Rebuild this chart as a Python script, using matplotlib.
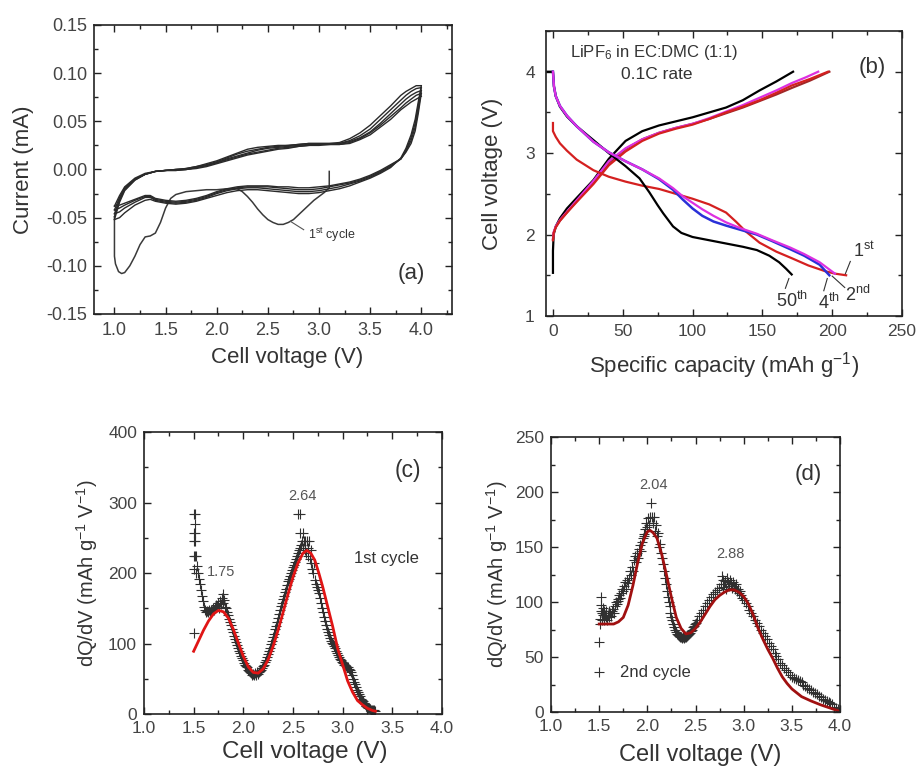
import matplotlib
matplotlib.use("Agg")
import matplotlib.pyplot as plt
from matplotlib.ticker import MultipleLocator, FormatStrFormatter

plt.rcParams['font.family'] = ['Liberation Sans', 'DejaVu Sans']
plt.rcParams['mathtext.fontset'] = 'custom'
plt.rcParams['mathtext.rm'] = 'Liberation Sans'
plt.rcParams['mathtext.it'] = 'Liberation Sans:italic'
plt.rcParams['mathtext.bf'] = 'Liberation Sans:bold'

TXT = '#333333'
TICKC = '#444444'

# ---------------- (a) cyclic voltammetry ----------------
V_up = [1.00, 1.05, 1.10, 1.20, 1.30, 1.40, 1.50, 1.60, 1.70, 1.80, 1.90, 2.00, 2.10, 2.20, 2.30,
        2.40, 2.50, 2.60, 2.70, 2.80, 2.90, 3.00, 3.10, 3.20, 3.30, 3.40, 3.50, 3.60, 3.70, 3.80,
        3.85, 3.90, 3.95, 4.00]
up_1 = [-0.049, -0.032, -0.021, -0.011, -0.005, -0.002, -0.001, 0.000, 0.001, 0.003, 0.006, 0.009, 0.013, 0.017, 0.021,
        0.023, 0.024, 0.025, 0.025, 0.026, 0.027, 0.027, 0.027, 0.028, 0.032, 0.038, 0.046, 0.056, 0.066, 0.077,
        0.081, 0.084, 0.087, 0.087]
up_2 = [-0.052, -0.034, -0.022, -0.011, -0.005, -0.002, -0.001, 0.000, 0.001, 0.003, 0.005, 0.008, 0.012, 0.016, 0.019,
        0.021, 0.023, 0.024, 0.025, 0.026, 0.027, 0.027, 0.027, 0.027, 0.030, 0.035, 0.042, 0.052, 0.062, 0.072,
        0.077, 0.081, 0.084, 0.085]
up_3 = [-0.046, -0.031, -0.020, -0.010, -0.005, -0.002, -0.001, 0.000, 0.000, 0.002, 0.004, 0.007, 0.011, 0.014, 0.017,
        0.020, 0.022, 0.023, 0.024, 0.025, 0.026, 0.026, 0.026, 0.027, 0.029, 0.033, 0.039, 0.048, 0.058, 0.068,
        0.073, 0.077, 0.080, 0.082]
up_4 = [-0.042, -0.029, -0.019, -0.010, -0.005, -0.002, -0.001, -0.001, 0.000, 0.002, 0.004, 0.007, 0.010, 0.013, 0.016,
        0.018, 0.020, 0.022, 0.023, 0.024, 0.025, 0.026, 0.026, 0.026, 0.028, 0.032, 0.038, 0.046, 0.055, 0.064,
        0.069, 0.073, 0.077, 0.079]
up_5 = [-0.038, -0.027, -0.018, -0.009, -0.004, -0.002, -0.001, -0.001, 0.000, 0.001, 0.003, 0.006, 0.009, 0.012, 0.015,
        0.017, 0.019, 0.021, 0.022, 0.024, 0.025, 0.025, 0.026, 0.026, 0.027, 0.031, 0.036, 0.044, 0.052, 0.062,
        0.066, 0.070, 0.073, 0.076]

V_dn = [4.00, 3.97, 3.94, 3.90, 3.85, 3.80, 3.70, 3.60, 3.50, 3.40, 3.30, 3.20, 3.10, 3.00, 2.90, 2.80,
        2.70, 2.60, 2.50, 2.40, 2.30, 2.20, 2.10, 2.00, 1.90, 1.80, 1.70, 1.60, 1.50, 1.40, 1.35, 1.30,
        1.20, 1.10, 1.05, 1.00]
dn_1 = [0.087, 0.070, 0.052, 0.036, 0.022, 0.012, 0.002, -0.004, -0.009, -0.013, -0.017, -0.020, -0.022, -0.024, -0.025, -0.025,
        -0.024, -0.023, -0.022, -0.021, -0.021, -0.022, -0.024, -0.027, -0.030, -0.033, -0.035, -0.036, -0.035, -0.033, -0.031, -0.032,
        -0.037, -0.045, -0.050, -0.052]
dn_2 = [0.085, 0.066, 0.048, 0.033, 0.020, 0.011, 0.003, -0.003, -0.008, -0.012, -0.015, -0.018, -0.020, -0.022, -0.023, -0.023,
        -0.022, -0.021, -0.020, -0.019, -0.019, -0.020, -0.022, -0.025, -0.029, -0.032, -0.034, -0.035, -0.034, -0.032, -0.029, -0.029,
        -0.034, -0.040, -0.044, -0.046]
dn_3 = [0.082, 0.062, 0.044, 0.030, 0.019, 0.011, 0.004, -0.002, -0.007, -0.011, -0.014, -0.016, -0.018, -0.020, -0.021, -0.021,
        -0.020, -0.019, -0.018, -0.018, -0.018, -0.019, -0.021, -0.024, -0.028, -0.031, -0.033, -0.034, -0.033, -0.031, -0.028, -0.028,
        -0.032, -0.037, -0.040, -0.042]
dn_4 = [0.079, 0.058, 0.040, 0.027, 0.018, 0.011, 0.005, -0.001, -0.006, -0.010, -0.013, -0.015, -0.017, -0.018, -0.019, -0.019,
        -0.018, -0.018, -0.017, -0.017, -0.017, -0.018, -0.020, -0.023, -0.027, -0.030, -0.032, -0.033, -0.032, -0.030, -0.027, -0.027,
        -0.031, -0.035, -0.037, -0.038]

V_first = [3.10, 3.10, 3.05, 3.00, 2.95, 2.90, 2.85, 2.80, 2.75, 2.70, 2.65, 2.60, 2.55, 2.50, 2.45, 2.40, 2.35, 2.30,
           2.25, 2.20, 2.10, 2.00, 1.90, 1.80, 1.70, 1.60, 1.55, 1.50, 1.45, 1.40, 1.35, 1.30, 1.25, 1.20, 1.15, 1.10,
           1.07, 1.04, 1.01, 1.00, 1.00, 1.00]
I_first = [-0.002, -0.019, -0.024, -0.028, -0.032, -0.037, -0.042, -0.047, -0.052, -0.055, -0.057, -0.057, -0.055, -0.052,
           -0.047, -0.041, -0.034, -0.028, -0.023, -0.020, -0.020, -0.021, -0.021, -0.022, -0.023, -0.026, -0.030, -0.040,
           -0.055, -0.066, -0.069, -0.070, -0.078, -0.090, -0.100, -0.107, -0.108, -0.106, -0.098, -0.090, -0.070, -0.049]

# ---------------- (b) charge / discharge ----------------
cap_d1 = [0, 0, 2, 5, 10, 17, 29, 40, 52, 64, 76, 88, 100, 112, 124, 131, 138, 148, 160, 171, 183, 195, 202, 210]
V_d1 = [3.37, 3.27, 3.20, 3.12, 3.03, 2.92, 2.79, 2.71, 2.65, 2.60, 2.56, 2.50, 2.44, 2.37, 2.27, 2.16, 2.04, 1.90,
        1.79, 1.71, 1.62, 1.55, 1.52, 1.50]
cap_d2 = [0, 0.7, 2, 5, 10, 17, 29, 40, 52, 64, 76, 86, 93, 100, 107, 115, 124, 134, 146, 157, 170, 180, 191, 202]
V_d2 = [4.00, 3.82, 3.70, 3.58, 3.46, 3.33, 3.14, 3.01, 2.90, 2.80, 2.69, 2.57, 2.47, 2.39, 2.31, 2.23, 2.15, 2.08,
        2.01, 1.93, 1.84, 1.76, 1.66, 1.52]
cap_d4 = [0, 0.7, 2, 5, 10, 17, 29, 40, 52, 64, 76, 86, 93, 100, 107, 115, 124, 134, 146, 157, 170, 180, 191, 198]
V_d4 = [4.00, 3.82, 3.70, 3.58, 3.46, 3.33, 3.14, 3.01, 2.90, 2.80, 2.68, 2.55, 2.43, 2.32, 2.23, 2.16, 2.11, 2.06,
        2.00, 1.92, 1.82, 1.74, 1.63, 1.50]
cap_d50 = [-4, 0, 0.7, 2, 5, 10, 17, 29, 40, 52, 62, 69, 75, 79, 86, 92, 100, 112, 124, 136, 146, 155, 162, 167, 171]
V_d50 = [4.00, 4.00, 3.82, 3.70, 3.57, 3.45, 3.33, 3.16, 3.00, 2.84, 2.69, 2.52, 2.36, 2.26, 2.10, 2.02, 1.97, 1.93,
         1.89, 1.85, 1.81, 1.74, 1.66, 1.58, 1.51]

cap_c1 = [0, 0.5, 2, 5, 10, 17, 29, 40, 52, 64, 76, 88, 100, 112, 124, 136, 148, 160, 171, 184, 197]
V_c1 = [1.93, 2.02, 2.09, 2.17, 2.27, 2.40, 2.62, 2.85, 3.02, 3.15, 3.24, 3.30, 3.35, 3.42, 3.50, 3.57, 3.65, 3.74,
        3.83, 3.91, 4.00]
cap_c2 = [0, 0.5, 2, 5, 10, 17, 29, 40, 52, 64, 76, 88, 100, 112, 124, 136, 148, 160, 171, 184, 198]
V_c2 = [1.94, 2.02, 2.09, 2.17, 2.27, 2.41, 2.64, 2.88, 3.05, 3.17, 3.25, 3.31, 3.36, 3.42, 3.49, 3.56, 3.64, 3.72,
        3.80, 3.89, 4.00]
cap_c4 = [0, 0.5, 2, 5, 10, 17, 29, 40, 52, 64, 76, 88, 100, 112, 124, 136, 148, 160, 171, 181, 190]
V_c4 = [1.95, 2.03, 2.10, 2.18, 2.28, 2.42, 2.66, 2.90, 3.06, 3.17, 3.25, 3.31, 3.36, 3.43, 3.51, 3.59, 3.68, 3.77,
        3.86, 3.93, 4.00]
cap_c50 = [0, 0, 0.5, 2, 5, 10, 17, 29, 40, 52, 64, 76, 88, 100, 112, 124, 136, 148, 160, 172]
V_c50 = [1.53, 1.80, 2.00, 2.10, 2.20, 2.32, 2.45, 2.67, 2.93, 3.15, 3.27, 3.34, 3.39, 3.44, 3.50, 3.56, 3.65, 3.77,
         3.88, 4.00]

# ---------------- (c) dQ/dV 1st cycle ----------------
V_c = [1.50, 1.51, 1.51, 1.50, 1.51, 1.50, 1.51, 1.50, 1.51, 1.52, 1.50, 1.52, 1.50,
       1.53, 1.54, 1.55, 1.56, 1.57, 1.58, 1.59, 1.60, 1.61, 1.62, 1.63, 1.64, 1.65, 1.66, 1.67, 1.68, 1.69, 1.70,
       1.71, 1.72, 1.73, 1.74, 1.75, 1.76, 1.77, 1.78, 1.79, 1.80, 1.80, 1.81, 1.82, 1.83, 1.84, 1.85, 1.86, 1.87,
       1.88, 1.89, 1.90, 1.91, 1.92, 1.93, 1.94, 1.95, 1.96, 1.97, 1.98, 1.99, 2.00, 2.01, 2.02, 2.03, 2.04, 2.05,
       2.06, 2.07, 2.08, 2.09, 2.10, 2.11, 2.12, 2.13, 2.14, 2.15, 2.16, 2.17, 2.18, 2.19, 2.20, 2.21, 2.22, 2.23,
       2.24, 2.25, 2.26, 2.27, 2.28, 2.29, 2.30, 2.31, 2.32, 2.33, 2.34, 2.35, 2.36, 2.37, 2.38, 2.39, 2.40, 2.41,
       2.42, 2.43, 2.44, 2.45, 2.46, 2.47, 2.48, 2.49, 2.50, 2.51, 2.52, 2.53, 2.54, 2.55, 2.55, 2.56, 2.57, 2.57,
       2.57, 2.58, 2.59, 2.60, 2.60, 2.61, 2.62, 2.62, 2.63, 2.64, 2.65, 2.65, 2.66, 2.67, 2.68, 2.68, 2.69, 2.70,
       2.71, 2.72, 2.73, 2.74, 2.75, 2.76, 2.77, 2.78, 2.79, 2.80, 2.81, 2.82, 2.83, 2.84, 2.85, 2.86, 2.87, 2.88,
       2.89, 2.90, 2.91, 2.92, 2.93, 2.94, 2.95, 2.96, 2.97, 2.98, 2.99, 3.00, 3.01, 3.02, 3.03, 3.04, 3.05, 3.06,
       3.07, 3.08, 3.09, 3.10, 3.11, 3.12, 3.13, 3.14, 3.15, 3.16, 3.17, 3.18, 3.19, 3.20, 3.21, 3.22, 3.23, 3.24,
       3.25, 3.26, 3.27, 3.28, 3.29, 3.30, 3.31, 3.32, 3.33]
Q_c = [284, 284, 270, 257, 257, 245, 245, 224, 224, 224, 205, 200, 115,
       210, 200, 192, 185, 176, 168, 160, 152, 148, 145, 146, 144, 147, 145, 148, 146, 150, 148,
       152, 150, 155, 153, 158, 150, 160, 156, 165, 170, 158, 162, 152, 150, 145, 140, 135, 130,
       126, 121, 116, 111, 106, 102, 98, 93, 90, 86, 82, 79, 76, 73, 70, 68, 66, 63,
       61, 60, 58, 56, 57, 55, 58, 56, 59, 57, 60, 61, 63, 65, 68, 70, 74, 77,
       81, 85, 89, 94, 99, 104, 109, 114, 120, 125, 131, 136, 142, 147, 153, 158, 163, 168,
       173, 178, 183, 188, 192, 196, 200, 204, 208, 212, 216, 220, 224, 228, 284, 232, 236, 284,
       257, 240, 245, 257, 236, 245, 232, 245, 228, 245, 224, 236, 245, 220, 214, 232, 206, 200,
       214, 190, 184, 180, 176, 172, 165, 158, 150, 144, 138, 132, 126, 120, 116, 112, 108, 104,
       101, 99, 96, 93, 90, 87, 84, 81, 78, 76, 74, 72, 70, 69, 68, 67, 66, 64,
       62, 60, 56, 50, 46, 42, 38, 34, 31, 28, 25, 22, 20, 18, 16, 14, 12, 11,
       10, 9, 8, 7, 6, 6, 5, 5, 4]
V_cfit = [1.50, 1.55, 1.60, 1.65, 1.70, 1.75, 1.80, 1.85, 1.90, 1.95, 2.00, 2.05, 2.10, 2.15, 2.20, 2.25, 2.30,
          2.35, 2.40, 2.45, 2.50, 2.55, 2.60, 2.64, 2.68, 2.72, 2.76, 2.80, 2.85, 2.90, 2.95, 3.00, 3.05, 3.10,
          3.15, 3.20, 3.25, 3.30, 3.33]
Q_cfit = [89, 104, 119, 132, 142, 147, 145, 136, 120, 101, 82, 67, 59, 58, 64, 77, 96, 119, 144, 170, 194, 214,
          228, 232, 228, 218, 200, 180, 152, 124, 93, 70, 47, 31, 19, 13, 8, 5, 4]

# ---------------- (d) dQ/dV 2nd cycle ----------------
V_d = [1.50, 1.51, 1.51, 1.52, 1.52, 1.52, 1.53, 1.53, 1.54, 1.54, 1.55, 1.55, 1.56, 1.57, 1.57, 1.58, 1.59,
       1.60, 1.60, 1.61, 1.62, 1.63, 1.64, 1.65, 1.66, 1.67, 1.68, 1.69, 1.70, 1.71, 1.72, 1.73, 1.74, 1.75,
       1.76, 1.77, 1.78, 1.79, 1.80, 1.81, 1.82, 1.83, 1.84, 1.85, 1.86, 1.87, 1.88, 1.89, 1.90, 1.91, 1.92,
       1.93, 1.94, 1.95, 1.96, 1.97, 1.98, 1.99, 2.00, 2.01, 2.02, 2.03, 2.04, 2.05, 2.06, 2.07, 2.08, 2.09,
       2.10, 2.11, 2.12, 2.13, 2.14, 2.15, 2.16, 2.17, 2.18, 2.19, 2.20, 2.21, 2.22, 2.23, 2.24, 2.25, 2.26,
       2.27, 2.28, 2.29, 2.30, 2.31, 2.32, 2.33, 2.34, 2.35, 2.36, 2.37, 2.38, 2.39, 2.40, 2.41, 2.42, 2.43,
       2.44, 2.45, 2.46, 2.47, 2.48, 2.49, 2.50, 2.52, 2.54, 2.56, 2.58, 2.60, 2.62, 2.64, 2.66, 2.68, 2.70,
       2.72, 2.74, 2.76, 2.77, 2.78, 2.79, 2.80, 2.81, 2.82, 2.83, 2.84, 2.85, 2.86, 2.87, 2.88, 2.89, 2.90,
       2.91, 2.92, 2.93, 2.94, 2.95, 2.96, 2.97, 2.98, 3.00, 3.02, 3.04, 3.06, 3.08, 3.10, 3.12, 3.14, 3.16,
       3.18, 3.20, 3.22, 3.24, 3.26, 3.28, 3.30, 3.32, 3.34, 3.36, 3.38, 3.40, 3.42, 3.44, 3.46, 3.48, 3.50,
       3.52, 3.54, 3.56, 3.58, 3.60, 3.62, 3.64, 3.66, 3.68, 3.70, 3.72, 3.74, 3.76, 3.78, 3.80, 3.82, 3.84,
       3.86, 3.88, 3.90, 3.92, 3.94, 3.96, 3.98, 4.00]
Q_d = [64, 80, 85, 92, 105, 97, 90, 84, 88, 95, 92, 84, 88, 86, 92, 84, 88,
       86, 92, 90, 87, 92, 94, 90, 96, 100, 98, 103, 101, 106, 104, 108, 112, 110,
       115, 118, 112, 120, 117, 122, 128, 125, 132, 128, 138, 142, 136, 145, 140, 148, 152,
       146, 155, 158, 162, 160, 166, 172, 168, 176, 170, 177, 190, 177, 172, 177, 165, 170,
       160, 163, 150, 153, 145, 140, 135, 128, 122, 116, 110, 105, 100, 96, 90, 86, 84,
       80, 77, 75, 73, 71, 70, 69, 68, 68, 67, 68, 67, 68, 68, 69, 70, 71,
       72, 74, 75, 77, 78, 80, 81, 84, 87, 90, 93, 96, 99, 102, 105, 107, 109,
       111, 113, 116, 124, 114, 120, 116, 119, 112, 122, 118, 115, 120, 117, 113, 118, 115,
       112, 116, 110, 112, 108, 110, 106, 104, 102, 99, 96, 93, 90, 87, 84, 81, 78,
       75, 72, 69, 66, 63, 60, 57, 54, 51, 48, 45, 43, 40, 38, 36, 34, 32,
       31, 30, 29, 28, 27, 25, 24, 22, 21, 20, 18, 17, 16, 15, 14, 12, 11,
       10, 9, 8, 7, 5, 4, 3, 2]
V_dfit = [1.50, 1.55, 1.60, 1.65, 1.70, 1.75, 1.80, 1.85, 1.90, 1.95, 2.00, 2.03, 2.06, 2.10, 2.15, 2.20, 2.25,
          2.30, 2.35, 2.40, 2.45, 2.50, 2.55, 2.60, 2.65, 2.70, 2.75, 2.80, 2.85, 2.90, 2.95, 3.00, 3.05, 3.10,
          3.15, 3.20, 3.25, 3.30, 3.35, 3.40, 3.45, 3.50, 3.60, 3.70, 3.80, 3.90, 4.00]
Q_dfit = [80, 80, 80, 80, 82, 86, 97, 115, 136, 154, 164, 165, 163, 158, 143, 124, 104,
          86, 76, 71, 72, 76, 82, 89, 96, 102, 106, 109, 111, 111, 109, 105, 98, 88,
          76, 66, 57, 49, 40, 32, 26, 21, 14, 10, 6.5, 3.5, 0.5]


def style(ax, xmaj, xmin, ymaj, ymin, tsize=12.5, xpad=5, ypad=5):
    ax.xaxis.set_major_locator(MultipleLocator(xmaj))
    ax.xaxis.set_minor_locator(MultipleLocator(xmin))
    ax.yaxis.set_major_locator(MultipleLocator(ymaj))
    ax.yaxis.set_minor_locator(MultipleLocator(ymin))
    ax.tick_params(which='both', direction='in', top=True, right=True, colors='#222222',
                   labelcolor=TICKC, labelsize=tsize)
    ax.tick_params(axis='x', which='major', pad=xpad)
    ax.tick_params(axis='y', which='major', pad=ypad)
    ax.tick_params(which='major', length=5, width=1.0)
    ax.tick_params(which='minor', length=3, width=1.0)
    for s in ax.spines.values():
        s.set_linewidth(1.2)
        s.set_color('#222222')


fig = plt.figure(figsize=(9.17, 7.69), dpi=100)

# (a)
axa = fig.add_axes([0.1025, 0.5917, 0.3904, 0.3758])
lc = '#2a2a2a'
lw = 1.0
axa.plot(V_first, I_first, color='#3a3a3a', lw=1.1)
for up in [up_1, up_2, up_3, up_4, up_5]:
    axa.plot(V_up, up, color=lc, lw=lw)
for dn in [dn_1, dn_2, dn_3, dn_4]:
    axa.plot(V_dn, dn, color=lc, lw=lw)
axa.plot([2.72, 2.85], [-0.0538, -0.0625], color='#555555', lw=0.8)
axa.text(2.89, -0.068, r'1$^{\mathrm{st}}$ cycle', fontsize=9, color=TXT, va='center')
axa.text(3.9, -0.108, '(a)', fontsize=16, color=TXT, ha='center', va='center')
axa.set_xlim(0.8, 4.3)
axa.set_ylim(-0.15, 0.15)
style(axa, 0.5, 0.25, 0.05, 0.025, tsize=13, xpad=6, ypad=5)
axa.yaxis.set_major_formatter(FormatStrFormatter('%.2f'))
axa.xaxis.set_major_formatter(FormatStrFormatter('%.1f'))
axa.set_xlabel('Cell voltage (V)', fontsize=16, color=TXT)
axa.set_ylabel('Current (mA)', fontsize=16, color=TXT)
axa.xaxis.set_label_coords(0.539, -0.115)
axa.yaxis.set_label_coords(-0.168, 0.5)

# (b)
axb = fig.add_axes([0.5954, 0.5891, 0.3882, 0.3706])
RED = '#d42020'
MAG = '#dd30e0'
BLUE = '#2a30d8'
DRED = '#a02828'
axb.plot(cap_c50, V_c50, color='black', lw=1.6)
axb.plot(cap_c2, V_c2, color=DRED, lw=1.6)
axb.plot(cap_c4, V_c4, color=MAG, lw=1.6)
axb.plot(cap_c1, V_c1, color=RED, lw=1.6)
axb.plot(cap_d1, V_d1, color=RED, lw=1.6)
axb.plot(cap_d50, V_d50, color='black', lw=1.6)
axb.plot(cap_d4, V_d4, color=BLUE, lw=1.8)
axb.plot(cap_d2, V_d2, color=MAG, lw=1.6)
axb.set_xlim(-5, 250)
axb.set_ylim(1, 4.5)
style(axb, 50, 25, 1, 0.5, tsize=12.5, xpad=6, ypad=8)
axb.text(12, 4.24, 'LiPF$_6$ in EC:DMC (1:1)', fontsize=12, color=TXT, va='center')
axb.text(49, 3.96, '0.1C rate', fontsize=12.5, color=TXT, va='center')
axb.text(229, 4.05, '(b)', fontsize=16, color=TXT, ha='center', va='center')
lab_col = '#333333'
axb.plot([209.5, 213], [1.52, 1.67], color=lab_col, lw=0.8)
axb.text(215, 1.80, r'1$^{\mathrm{st}}$', fontsize=13, color=TXT, va='center')
axb.plot([200, 209], [1.49, 1.35], color=lab_col, lw=0.8)
axb.text(209, 1.26, r'2$^{\mathrm{nd}}$', fontsize=13, color=TXT, va='center')
axb.plot([196.5, 194], [1.46, 1.31], color=lab_col, lw=0.8)
axb.text(190, 1.16, r'4$^{\mathrm{th}}$', fontsize=13, color=TXT, va='center')
axb.plot([169, 166.5], [1.46, 1.34], color=lab_col, lw=0.8)
axb.text(160, 1.18, r'50$^{\mathrm{th}}$', fontsize=13, color=TXT, va='center')
axb.set_xlabel('Specific capacity (mAh g$^{-1}$)', fontsize=16, color=TXT)
axb.set_ylabel('Cell voltage (V)', fontsize=16, color=TXT)
axb.xaxis.set_label_coords(0.5, -0.12)
axb.yaxis.set_label_coords(-0.121, 0.5)

# (c)
axc = fig.add_axes([0.157, 0.0715, 0.325, 0.3667])
axc.plot(V_c, Q_c, ls='none', marker='+', ms=7, mew=0.8, color='#303030')
axc.plot(V_cfit, Q_cfit, color='#e01515', lw=2.0)
axc.set_xlim(1.0, 4.0)
axc.set_ylim(0, 400)
style(axc, 0.5, 0.25, 100, 50, tsize=12.5, xpad=5, ypad=5)
axc.xaxis.set_major_formatter(FormatStrFormatter('%.1f'))
axc.text(3.66, 346, '(c)', fontsize=16.5, color=TXT, ha='center', va='center')
axc.text(2.60, 309, '2.64', fontsize=10.5, color='#555555', ha='center', va='center')
axc.text(1.78, 202, '1.75', fontsize=10.5, color='#555555', ha='center', va='center')
axc.text(3.44, 221, '1st cycle', fontsize=12, color=TXT, ha='center', va='center')
axc.set_xlabel('Cell voltage (V)', fontsize=17.5, color=TXT)
axc.set_ylabel('dQ/dV (mAh g$^{-1}$ V$^{-1}$)', fontsize=14.5, color=TXT)
axc.xaxis.set_label_coords(0.54, -0.095)
axc.yaxis.set_label_coords(-0.148, 0.5)

# (d)
axd = fig.add_axes([0.6009, 0.0741, 0.3152, 0.3576])
axd.plot(V_d, Q_d, ls='none', marker='+', ms=7, mew=0.8, color='#303030')
axd.plot(V_dfit, Q_dfit, color='#a01010', lw=2.0)
axd.plot([1.5], [36], ls='none', marker='+', ms=7, mew=0.8, color='#303030')
axd.text(1.72, 36, '2nd cycle', fontsize=12, color=TXT, va='center')
axd.set_xlim(1.0, 4.0)
axd.set_ylim(0, 250)
style(axd, 0.5, 0.25, 50, 25, tsize=12.5, xpad=5, ypad=5)
axd.xaxis.set_major_formatter(FormatStrFormatter('%.1f'))
axd.text(3.67, 216, '(d)', fontsize=16, color=TXT, ha='center', va='center')
axd.text(2.06, 206, '2.04', fontsize=10.5, color='#555555', ha='center', va='center')
axd.text(2.86, 144, '2.88', fontsize=10.5, color='#555555', ha='center', va='center')
axd.set_xlabel('Cell voltage (V)', fontsize=17, color=TXT)
axd.set_ylabel('dQ/dV (mAh g$^{-1}$ V$^{-1}$)', fontsize=14.5, color=TXT)
axd.xaxis.set_label_coords(0.516, -0.115)
axd.yaxis.set_label_coords(-0.142, 0.5)

fig.savefig('out.png', dpi=100)
